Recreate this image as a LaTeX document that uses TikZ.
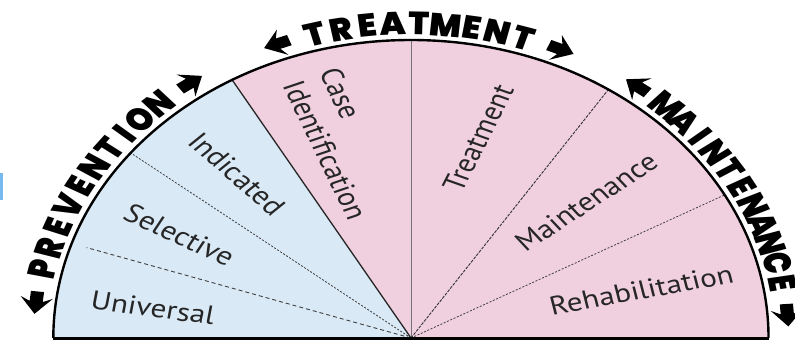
\documentclass[tikz,border=0pt]{standalone}
\usepackage{fontspec}
\setmainfont{PT Sans}
\newfontfamily\heavy{Poppins}[UprightFont={* Black},BoldFont={* Black},FakeStretch=0.88]

\definecolor{prevblue}{RGB}{217,233,245}
\definecolor{treatpink}{RGB}{240,208,222}
\definecolor{inktext}{RGB}{38,38,38}
\definecolor{strayblue}{RGB}{120,185,240}

% room kept for the arrows at both ends of a curved heading
\newcommand\arrowslot{\hbox to 22pt{\hfil}}
\newcommand\arcfont{\heavy\fontsize{32}{32}\selectfont}
% a narrow I with its side bearings trimmed
\newcommand\slimI{\kern-2.5pt I\kern-2.5pt}

\newdimen\arcacc
\newdimen\arcarrow
\newcount\arcitems
\newbox\arcbox

% a chunky arrow pointing along +x, sitting on the baseline
\newcommand\arrowpath{(-11,6)--(-1,6)--(-5,-2)--(11.5,11.5)--(-5,25)--(-1,17)--(-11,17)--cycle}

% #1 angle of first item centre, #2 angle of last item centre,
% #3 baseline radius, #4 comma list of items, #5 name prefix
\newcommand\arclabel[5]{%
  \global\arcarrow=22pt
  \global\arcacc=0pt
  \global\arcitems=0
  \foreach \ltr in {#4}{%
    \setbox\arcbox\hbox{\arcfont\ltr}%
    \global\advance\arcacc by \wd\arcbox
    \global\advance\arcitems by 1
  }%
  \pgfmathsetmacro\arcgap{((#1-#2)/57.29578*#3-(\the\arcacc-\the\arcarrow))/(\the\arcitems-1)}%
  \global\arcacc=0pt
  \global\arcitems=0
  \foreach \ltr in {#4}{%
    \setbox\arcbox\hbox{\arcfont\ltr}%
    \pgfmathsetmacro\ang{#1-(\the\arcacc-0.5*\the\arcarrow+0.5*\the\wd\arcbox+\the\arcitems*\arcgap)/#3*57.29578}%
    \node[arcletter,rotate=\ang-90] (#5-\the\arcitems) at (\ang:#3) {\ltr};
    \global\advance\arcacc by \wd\arcbox
    \global\advance\arcitems by 1
  }%
  % backward arrow at the start, forward arrow at the end
  \fill[black,shift={(#1:#3)},rotate=#1-90,xscale=-1] \arrowpath;
  \fill[black,shift={(#2:#3)},rotate=#2-90] \arrowpath;
}

\tikzset{
  arcletter/.style={transform shape,anchor=base,inner sep=0pt,font=\arcfont,text=black},
  sector/.style={transform shape,font=\fontsize{26}{26}\selectfont,text=inktext,inner sep=1pt},
  rim/.style={line width=2.4pt,black},
  base/.style={line width=3pt,black},
  split/.style={line width=1.3pt,black!85},
  divide/.style={line width=0.9pt,black!80,dash pattern=on 3pt off 1.2pt},
  subdivide/.style={line width=0.8pt,black!75,dash pattern=on 2pt off 1.6pt},
  loosedash/.style={line width=0.9pt,black!75,dash pattern=on 4pt off 3pt},
  centreline/.style={line width=0.8pt,black!55}
}

\begin{document}
\begin{tikzpicture}[x=1pt,y=1pt]
\begin{scope}[xscale=1.2]
\useasboundingbox (-342.5,-5) rectangle (320,338);

\coordinate (O) at (0,0);
\coordinate (w) at (180:298);
\coordinate (e) at (0:298);
\coordinate (a120) at (120:298);
\coordinate (a141) at (141.6:298);
\coordinate (a161) at (161.5:285);
\coordinate (a90) at (90:298);
\coordinate (a56) at (56.5:298);
\coordinate (a29) at (28.7:298);

% small blue mark at the left edge
\fill[strayblue] (-342.5,138) rectangle (-340,165);

% the two coloured sectors
\fill[prevblue] (O) -- (w) arc[start angle=180,end angle=120,radius=298] -- cycle;
\fill[treatpink] (O) -- (a120) arc[start angle=120,end angle=0,radius=298] -- cycle;

% dividing lines
\draw[loosedash] (O) -- (a161);
\draw[subdivide] (O) -- (a141);
\draw[split] (O) -- (a120);
\draw[centreline] (O) -- (a90);
\draw[divide] (O) -- (a56);
\draw[subdivide] (O) -- (a29);

% outline
\draw[rim] (w) arc[start angle=180,end angle=0,radius=298];
\draw[base] (w) -- (e);

% sector labels
\node[sector,rotate=-9] (univ) at (-215,30) {Universal};
\node[sector,rotate=-29] (sel) at (-193,103) {Selective};
\node[sector,rotate=-46] (ind) at (-145,164) {Indicated};
\node[sector,rotate=-68,align=left] (caseid) at (-56,194) {Case\\[7pt]Identification};
\node[sector,rotate=67] (treat) at (56,200) {Treatment};
\node[sector,rotate=38] (maint) at (146,136) {Maintenance};
\node[sector,rotate=12] (rehab) at (192,48) {Rehabilitation};

% curved headings around the rim
\arclabel{173.5}{125.7}{303}{\arrowslot,P,R,E,V,E,N,T,\slimI,O,N,\arrowslot}{prev}
\arclabel{110.8}{66.6}{303}{\arrowslot,T,R,E,A,T,M,E,N,T,\arrowslot}{trt}
\arclabel{53.2}{4.2}{303}{\arrowslot,M,A,I,N,T,E,N,A,N,C,E,\arrowslot}{mnt}
\end{scope}
\end{tikzpicture}
\end{document}
